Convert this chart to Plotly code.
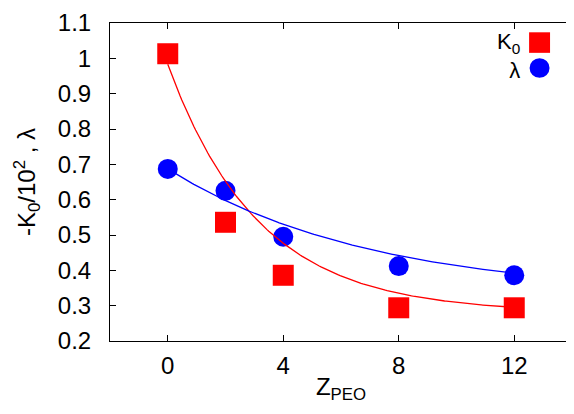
import numpy as np
import plotly.graph_objects as go

# data
z_peo = [0, 2, 4, 8, 12]
k0_vals = [1.013, 0.536, 0.386, 0.294, 0.294]
lam_vals = [0.687, 0.625, 0.495, 0.412, 0.386]
x_ticks = [0, 4, 8, 12]
y_ticks = [0.2, 0.3, 0.4, 0.5, 0.6, 0.7, 0.8, 0.9, 1.0, 1.1]
y_ticklabels = ["0.2", "0.3", "0.4", "0.5", "0.6", "0.7", "0.8", "0.9", "1", "1.1"]

# fitted model parameters: y = c + a * exp(-x / t)
k0_fit = dict(a=0.703, t=3.14, c=0.28)
lam_fit = dict(a=0.36, t=7.0, c=0.327)

xf = np.linspace(0, 12, 200)
def model(p, x):
    return p["c"] + p["a"] * np.exp(-x / p["t"])

FONT = "Liberation Sans, Arial, sans-serif"
FS = 24

fig = go.Figure()
fig.add_trace(go.Scatter(x=z_peo, y=k0_vals, mode="markers", name="K<sub>0</sub>",
                         marker=dict(symbol="square", size=21, color="#ff0000", line=dict(width=0))))
fig.add_trace(go.Scatter(x=z_peo, y=lam_vals, mode="markers", name="λ",
                         marker=dict(symbol="circle", size=20, color="#0000ff", line=dict(width=0))))
fig.add_trace(go.Scatter(x=xf, y=model(k0_fit, xf), mode="lines", showlegend=False,
                         line=dict(color="#ff0000", width=1.3)))
fig.add_trace(go.Scatter(x=xf, y=model(lam_fit, xf), mode="lines", showlegend=False,
                         line=dict(color="#0000ff", width=1.3)))

# page has an 8px body margin; figure sized to fit the window
OFF = 8
W, H = 574 - OFF, 414 - OFF
ml, mr, mt, mb = 110 - OFF, 1, 16 - OFF, 73
pw, ph = W - ml - mr, H - mt - mb

def px_x(p):
    return (p - OFF - ml) / pw
def px_y(p):
    return 1 - (p - OFF - mt) / ph

# legend (gnuplot style: text left, symbol right)
shapes = [
    dict(type="rect", xref="paper", yref="paper",
         x0=px_x(530), x1=px_x(551), y0=px_y(46.5), y1=px_y(25.5),
         fillcolor="#ff0000", line=dict(width=0)),
    dict(type="circle", xref="paper", yref="paper",
         x0=px_x(530.5), x1=px_x(550.5), y0=px_y(72), y1=px_y(52),
         fillcolor="#0000ff", line=dict(width=0)),
]
annotations = [
    dict(text="K<sub>0</sub><br>λ", xref="paper", yref="paper", x=px_x(523), y=px_y(20),
         xanchor="right", yanchor="top", align="right", showarrow=False,
         font=dict(size=22, family=FONT, color="black")),
]

fig.update_layout(
    width=W, height=H,
    margin=dict(l=ml, r=mr, t=mt, b=mb),
    paper_bgcolor="white", plot_bgcolor="white",
    showlegend=False,
    font=dict(family=FONT, size=FS, color="black"),
    shapes=shapes, annotations=annotations,
)
fig.update_xaxes(range=[-2, 14], tickvals=x_ticks, ticks="inside", ticklen=6, tickcolor="black",
                 showline=True, linecolor="black", linewidth=1, mirror="ticks", showgrid=False,
                 zeroline=False, ticklabelstandoff=3,
                 title=dict(text="Z<sub>PEO</sub>", font=dict(size=FS), standoff=0))
fig.update_yaxes(range=[0.2, 1.1], tickvals=y_ticks, ticktext=y_ticklabels, ticks="inside", ticklen=6,
                 tickcolor="black", ticklabeloverflow="allow",
                 showline=True, linecolor="black", linewidth=1, mirror="ticks", showgrid=False,
                 zeroline=False, ticklabelstandoff=13,
                 title=dict(text="-K<sub>0</sub>/10<sup>2</sup> , λ", font=dict(size=FS)))

fig.write_html("out.html")
